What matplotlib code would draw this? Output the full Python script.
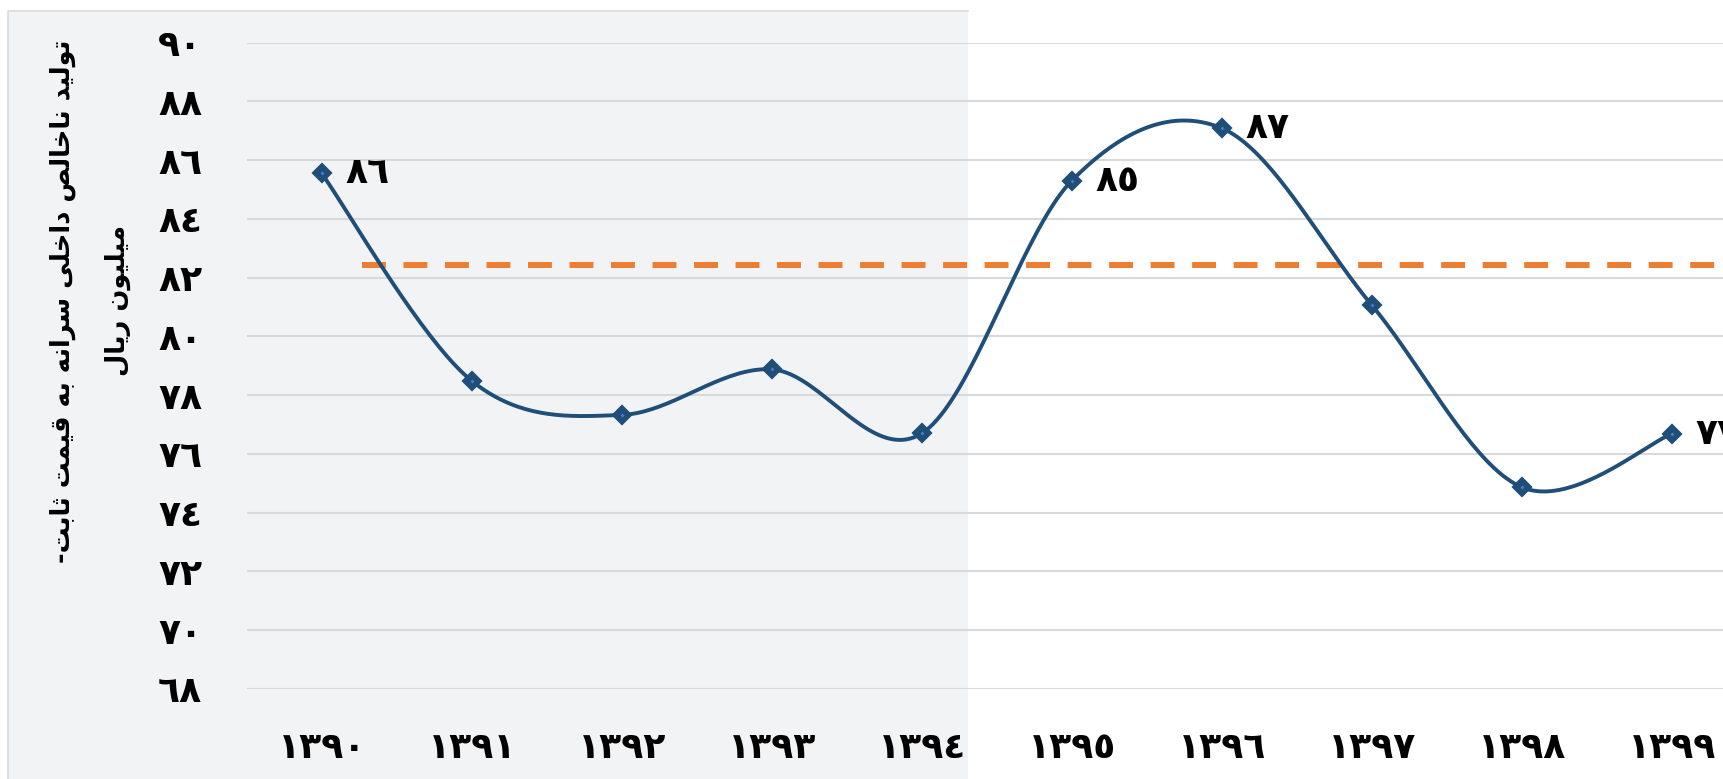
import numpy as np
import matplotlib
matplotlib.use("Agg")
import matplotlib.pyplot as plt
from matplotlib.patches import Rectangle
from matplotlib.lines import Line2D

# ---------------- data ----------------
years = [1390, 1391, 1392, 1393, 1394, 1395, 1396, 1397, 1398, 1399]
values = [85.55, 78.49, 77.33, 78.88, 76.70, 85.30, 87.09, 81.07, 74.87, 76.68]
labelled_years = [1390, 1395, 1396, 1399]
reference_level = 82.43
reference_start = 0.27          # category position where the dashed line starts
y_ticks = [68, 70, 72, 74, 76, 78, 80, 82, 84, 86, 88, 90]
ylabel_lines = ["تولید ناخالص داخلی سرانه به قیمت ثابت-", "میلیون ریال"]

# ---------------- helpers ----------------
DIGITS = str.maketrans("0123456789", "٠١٢٣٤٥٦٧٨٩")


def ar_num(v):
    return str(v).translate(DIGITS)


FORMS = {
    'ا': ('\ufe8d', '\ufe8e'),
    'ب': ('\ufe8f', '\ufe90', '\ufe91', '\ufe92'),
    'ت': ('\ufe95', '\ufe96', '\ufe97', '\ufe98'),
    'ث': ('\ufe99', '\ufe9a', '\ufe9b', '\ufe9c'),
    'خ': ('\ufea5', '\ufea6', '\ufea7', '\ufea8'),
    'د': ('\ufea9', '\ufeaa'),
    'ر': ('\ufead', '\ufeae'),
    'س': ('\ufeb1', '\ufeb2', '\ufeb3', '\ufeb4'),
    'ص': ('\ufeb9', '\ufeba', '\ufebb', '\ufebc'),
    'ق': ('\ufed5', '\ufed6', '\ufed7', '\ufed8'),
    'ل': ('\ufedd', '\ufede', '\ufedf', '\ufee0'),
    'م': ('\ufee1', '\ufee2', '\ufee3', '\ufee4'),
    'ن': ('\ufee5', '\ufee6', '\ufee7', '\ufee8'),
    'ه': ('\ufee9', '\ufeea', '\ufeeb', '\ufeec'),
    'و': ('\ufeed', '\ufeee'),
    'ی': ('\ufbfc', '\ufbfd', '\ufbfe', '\ufbff'),
}


def shape(text):
    out = []
    n = len(text)
    for i, ch in enumerate(text):
        f = FORMS.get(ch)
        if f is None:
            out.append(ch)
            continue
        prev = text[i - 1] if i > 0 else None
        nxt = text[i + 1] if i < n - 1 else None
        joins_prev = prev in FORMS and len(FORMS[prev]) == 4
        joins_next = len(f) == 4 and nxt in FORMS
        if joins_prev and joins_next:
            out.append(f[3])
        elif joins_prev:
            out.append(f[1])
        elif joins_next:
            out.append(f[2])
        else:
            out.append(f[0])
    return "".join(out)[::-1]


def catmull_rom(xs, ys, n=40):
    p = np.column_stack([xs, ys]).astype(float)
    ext = np.vstack([p[0], p, p[-1]])
    curve = []
    t = np.linspace(0, 1, n)[:, None]
    for i in range(len(p) - 1):
        p0, p1, p2, p3 = ext[i], ext[i + 1], ext[i + 2], ext[i + 3]
        b1 = p1 + (p2 - p0) / 6.0
        b2 = p2 - (p3 - p1) / 6.0
        seg = ((1 - t) ** 3) * p1 + 3 * ((1 - t) ** 2) * t * b1 + 3 * (1 - t) * t ** 2 * b2 + t ** 3 * p2
        curve.append(seg if i == 0 else seg[1:])
    c = np.vstack(curve)
    return c[:, 0], c[:, 1]


# ---------------- figure ----------------
W, H = 1724, 779
fig = plt.figure(figsize=(W / 100, H / 100), dpi=100)
fig.patch.set_facecolor("white")

# grey panel on the left (drawn beneath everything), border only on left and top
x0, x1, ytop = 8 / W, 968 / W, 1 - 10.7 / H
bg = Rectangle((x0, -0.01), x1 - x0, ytop + 0.01, transform=fig.transFigure,
               facecolor="#f2f3f5", edgecolor="none")
bg.set_zorder(-10)
fig.add_artist(bg)
border = Line2D([x0, x0, x1], [-0.01, ytop, ytop], transform=fig.transFigure,
                color="#d9d9d9", linewidth=1.2)
border.set_zorder(-9)
fig.add_artist(border)

ax = fig.add_axes([246.7 / W, 90 / H, 1500 / W, (689 - 42.7) / H])
ax.set_zorder(1)
ax.patch.set_alpha(0)

x = np.arange(len(years))
ax.set_xlim(-0.5, len(years) - 0.5)
ax.set_ylim(min(y_ticks), max(y_ticks))

for yt in y_ticks:
    ax.axhline(yt, color="#d9d9d9", linewidth=1.5, zorder=1)

# reference dashed line
ax.plot([reference_start, len(years) + 1], [reference_level, reference_level], color="#ed7d31",
        linewidth=4.3, dashes=(4.0, 2.95), solid_capstyle="butt", dash_capstyle="butt", zorder=2,
        clip_on=False)

# smoothed series
cx, cy = catmull_rom(x, values)
ax.plot(cx, cy, color="#1f4e79", linewidth=2.8, zorder=3, solid_capstyle="round")
ax.plot(x, values, linestyle="none", marker="D", markersize=9.5, markerfacecolor="#1f4e79",
        markeredgecolor="#1f4e79", markeredgewidth=1.6, zorder=4)
ax.plot(x, values, linestyle="none", marker="D", markersize=2.0, markerfacecolor="#4a7cc7",
        markeredgecolor="#4a7cc7", markeredgewidth=0, zorder=5)

digit_font = dict(family="DejaVu Sans", weight="bold", size=26)

for yr in labelled_years:
    i = years.index(yr)
    ax.annotate(ar_num(int(round(values[i]))), (x[i], values[i]), xytext=(17, 0),
                textcoords="offset points", ha="left", va="center", color="black",
                annotation_clip=False, **digit_font)

ax.set_xticks(x)
ax.set_xticklabels([ar_num(y) for y in years])
ax.set_yticks(y_ticks)
ax.set_yticklabels([ar_num(v) for v in y_ticks])
for lbl in ax.get_xticklabels() + ax.get_yticklabels():
    lbl.set_fontfamily("DejaVu Sans")
    lbl.set_fontweight("bold")
    lbl.set_fontsize(26)
ax.tick_params(axis="x", length=0, pad=30)
ax.tick_params(axis="y", length=0, pad=32)
for s in ax.spines.values():
    s.set_visible(False)

fig.text(63 / W, 1 - 301.5 / H, shape(ylabel_lines[0]), rotation=90, ha="center", va="center",
         family="DejaVu Sans", weight="bold", fontsize=18.5)
fig.text(118 / W, 1 - 301 / H, shape(ylabel_lines[1]), rotation=90, ha="center", va="center",
         family="DejaVu Sans", weight="bold", fontsize=18.5)

fig.savefig("out.png", dpi=100)
